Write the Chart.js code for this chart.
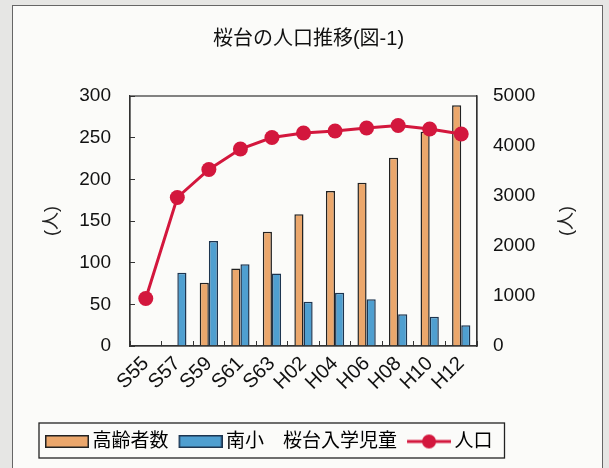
<!DOCTYPE html>
<html lang="ja">
<head>
<meta charset="utf-8">
<title>桜台の人口推移</title>
<script src="https://cdn.jsdelivr.net/npm/chart.js@4.4.1/dist/chart.umd.min.js"></script>
<style>
  html, body { margin: 0; padding: 0; background: #e6e6e4; }
  .sheet { position: absolute; left: 0; top: 0; width: 609px; height: 468px; overflow: hidden; }
  .frame {
    position: absolute; left: 12px; top: 5px; width: 591px; height: 475px;
    border: 1.5px solid #666; background: #fbfbf9; box-sizing: border-box;
  }
  #popChart { position: absolute; left: 0; top: 0; }
</style>
</head>
<body>
<div class="sheet">
  <div class="frame"></div>
  <canvas id="popChart" width="609" height="468"></canvas>
</div>
<script>
// years (Showa / Heisei)
const years = ['S55', 'S57', 'S59', 'S61', 'S63', 'H02', 'H04', 'H06', 'H08', 'H10', 'H12'];

// left axis (人)
const elderly = [null, null, 76, 93, 137, 158, 186, 196, 226, 257, 289];
const newPupils = [null, 88, 126, 98, 87, 53, 64, 56, 38, 35, 25];

// right axis (人)
const population = [950, 2970, 3530, 3940, 4170, 4260, 4300, 4360, 4410, 4340, 4240];

const FONT = "'Liberation Sans', 'Noto Sans CJK JP', sans-serif";
const ORANGE = '#eba76c';
const BLUE = '#4f9fd0';
const RED = '#d3173d';

// legend marks: 52px canvas, the mark sits in the right 44px
function makeSwatch(fill, stroke) {
    const c = document.createElement('canvas');
    c.width = 52;
    c.height = 13;
    const g = c.getContext('2d');
    g.fillStyle = fill;
    g.fillRect(8, 0, 44, 13);
    g.strokeStyle = stroke;
    g.lineWidth = 1.5;
    g.strokeRect(8.75, 0.75, 42.5, 11.5);
    return c;
}

function makeLineMarker(color) {
    const c = document.createElement('canvas');
    c.width = 52;
    c.height = 18;
    const g = c.getContext('2d');
    g.strokeStyle = color;
    g.lineWidth = 3;
    g.beginPath();
    g.moveTo(8, 9);
    g.lineTo(52, 9);
    g.stroke();
    g.fillStyle = color;
    g.beginPath();
    g.arc(30, 9, 7, 0, Math.PI * 2);
    g.fill();
    return c;
}

const legendMarks = [
    makeSwatch(ORANGE, '#222'),
    makeSwatch(BLUE, '#1d3550'),
    makeLineMarker(RED)
];

// plot box, right axis title (same turn as the left one), legend border
const extras = {
    id: 'extras',
    afterDraw(chart) {
        const { ctx, chartArea: a } = chart;
        ctx.save();
        ctx.strokeStyle = '#333';
        ctx.lineWidth = 1.2;
        ctx.strokeRect(a.left, a.top, a.right - a.left, a.bottom - a.top);

        const boxes = chart.legend.legendHitBoxes;
        if (boxes && boxes.length) {
            const first = boxes[0];
            const last = boxes[boxes.length - 1];
            ctx.lineWidth = 1.3;
            ctx.strokeStyle = '#222';
            ctx.strokeRect(first.left - 4, first.top - 9,
                last.left + last.width + 12 - (first.left - 4), first.height + 16);
        }

        const y1 = chart.scales.y1;
        ctx.translate(y1.right - 15, (a.top + a.bottom) / 2);
        ctx.rotate(-Math.PI / 2);
        ctx.font = '18px ' + FONT;
        ctx.fillStyle = '#222';
        ctx.textAlign = 'center';
        ctx.textBaseline = 'middle';
        ctx.fillText('(人)', 0, 0);
        ctx.restore();
    }
};

const ctx = document.getElementById('popChart').getContext('2d');
new Chart(ctx, {
    type: 'bar',
    data: {
        labels: years,
        datasets: [
            {
                label: '高齢者数',
                data: elderly,
                backgroundColor: ORANGE,
                borderColor: '#222',
                borderWidth: 1.5,
                yAxisID: 'y',
                categoryPercentage: 0.58,
                barPercentage: 1
            },
            {
                label: '南小　桜台入学児童',
                data: newPupils,
                backgroundColor: BLUE,
                borderColor: '#1d3550',
                borderWidth: 1.5,
                yAxisID: 'y',
                categoryPercentage: 0.58,
                barPercentage: 1
            },
            {
                type: 'line',
                label: '人口',
                data: population,
                borderColor: RED,
                backgroundColor: RED,
                borderWidth: 3,
                pointRadius: 7.5,
                pointBorderWidth: 0,
                tension: 0,
                yAxisID: 'y1',
                order: -1
            }
        ]
    },
    options: {
        responsive: false,
        animation: false,
        layout: { padding: { left: 35, right: 27, top: 10, bottom: 7 } },
        plugins: {
            title: {
                display: true,
                text: '桜台の人口推移(図-1)',
                color: '#111',
                font: { family: FONT, size: 20, weight: 'normal' },
                padding: { top: 17, bottom: 45 }
            },
            legend: {
                position: 'bottom',
                align: 'start',
                labels: {
                    usePointStyle: true,
                    pointStyleWidth: 40,
                    boxHeight: 14,
                    padding: 8,
                    color: '#111',
                    font: { family: FONT, size: 19 },
                    generateLabels: chart => chart.data.datasets.map((ds, i) => ({
                        text: ds.label,
                        pointStyle: legendMarks[i],
                        fillStyle: 'transparent',
                        strokeStyle: 'transparent',
                        lineWidth: 0,
                        hidden: false,
                        datasetIndex: i
                    }))
                }
            },
            tooltip: { enabled: false }
        },
        scales: {
            x: {
                grid: { drawOnChartArea: false, tickLength: -5, color: '#333', offset: true },
                border: { color: '#333', width: 1.2 },
                ticks: {
                    autoSkip: false,
                    color: '#111',
                    font: { family: FONT, size: 20 },
                    minRotation: 45,
                    maxRotation: 45,
                    padding: 11
                },
                afterFit: scale => { scale.height = 78; }
            },
            y: {
                position: 'left',
                min: 0,
                max: 300,
                grid: { drawOnChartArea: false, tickLength: -5, color: '#333' },
                border: { color: '#333', width: 1.2 },
                ticks: {
                    stepSize: 50,
                    color: '#111',
                    font: { family: FONT, size: 19 },
                    padding: 24,
                    callback: v => String(v)
                },
                title: {
                    display: true,
                    text: '(人)',
                    color: '#222',
                    font: { family: FONT, size: 18 },
                    padding: { top: 6, bottom: 0 }
                },
                afterFit: scale => { scale.width = 95; }
            },
            y1: {
                position: 'right',
                min: 0,
                max: 5000,
                grid: { display: false, drawTicks: false },
                border: { color: '#333', width: 1.2 },
                ticks: {
                    stepSize: 500,
                    color: '#111',
                    font: { family: FONT, size: 19 },
                    padding: 16,
                    callback: v => String(v)
                },
                afterFit: scale => { scale.width = 105; }
            }
        }
    },
    plugins: [extras]
});
</script>
</body>
</html>
